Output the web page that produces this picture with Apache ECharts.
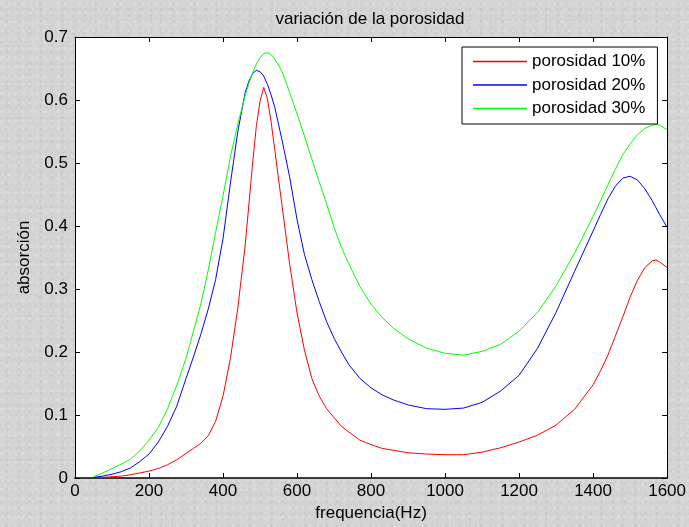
<!DOCTYPE html>
<html>
<head>
<meta charset="utf-8">
<script src="https://cdn.jsdelivr.net/npm/echarts@6/dist/echarts.min.js"></script>
<style>
html,body{margin:0;padding:0;}
body{
  background-color:#d4d4d4;
  background-image:
    radial-gradient(circle at 30% 40%, rgba(255,255,255,0.3) 0, rgba(255,255,255,0) 2px),
    radial-gradient(circle at 70% 60%, rgba(160,160,160,0.25) 0, rgba(160,160,160,0) 2px),
    radial-gradient(circle at 50% 50%, rgba(235,235,235,0.25) 0, rgba(235,235,235,0) 3px),
    radial-gradient(circle at 20% 80%, rgba(175,175,175,0.25) 0, rgba(175,175,175,0) 2px);
  background-size: 7px 9px, 11px 6px, 13px 17px, 5px 11px;
}
#chart{width:689px;height:527px;}
</style>
</head>
<body>
<div id="chart"></div>
<script>
var freq = [50,75,100,125,150,175,200,225,250,275,300,320,340,360,380,400,420,440,460,470,480,490,500,510,520,530,540,560,580,600,620,640,660,680,700,720,740,770,800,830,860,900,950,1000,1050,1100,1150,1200,1250,1300,1350,1400,1420,1440,1460,1480,1500,1520,1540,1560,1570,1580,1600];
var por10 = [0.000,0.001,0.002,0.003,0.005,0.008,0.011,0.015,0.021,0.029,0.039,0.047,0.055,0.067,0.090,0.130,0.190,0.270,0.370,0.435,0.500,0.558,0.598,0.620,0.602,0.565,0.520,0.430,0.340,0.262,0.203,0.158,0.130,0.110,0.096,0.082,0.073,0.060,0.053,0.047,0.044,0.040,0.038,0.037,0.037,0.041,0.048,0.057,0.068,0.084,0.109,0.148,0.170,0.195,0.225,0.255,0.287,0.314,0.334,0.345,0.346,0.343,0.334];
var por20 = [0.001,0.003,0.006,0.010,0.016,0.026,0.038,0.057,0.082,0.114,0.158,0.192,0.228,0.268,0.315,0.380,0.468,0.550,0.612,0.630,0.642,0.647,0.645,0.638,0.625,0.608,0.588,0.535,0.478,0.410,0.355,0.315,0.280,0.248,0.222,0.200,0.180,0.158,0.143,0.132,0.124,0.116,0.110,0.109,0.111,0.120,0.138,0.163,0.206,0.263,0.328,0.392,0.418,0.443,0.463,0.476,0.479,0.473,0.459,0.440,0.429,0.418,0.398];
var por30 = [0.002,0.008,0.015,0.022,0.030,0.043,0.060,0.080,0.110,0.147,0.190,0.233,0.276,0.330,0.390,0.448,0.510,0.562,0.607,0.627,0.643,0.657,0.667,0.674,0.675,0.672,0.665,0.645,0.612,0.578,0.543,0.506,0.470,0.435,0.398,0.366,0.340,0.304,0.276,0.255,0.238,0.221,0.206,0.198,0.195,0.201,0.212,0.233,0.263,0.305,0.357,0.415,0.440,0.465,0.490,0.513,0.530,0.545,0.555,0.560,0.561,0.560,0.553];
var seriesNames = ['porosidad 10%','porosidad 20%','porosidad 30%'];
var seriesColors = ['#ff0000','#0000ff','#00ff00'];
var xTicks = {min:0, max:1600, interval:200};
var yTicks = {min:0, max:0.7, interval:0.1};

function pairs(ys){ return freq.map(function(f,i){ return [f, ys[i]]; }); }
var font = 'Liberation Sans, Arial, Helvetica, sans-serif';
var FS = 17;
var chart = echarts.init(document.getElementById('chart'), null, {renderer:'canvas'});
var tickStyle = {show:true, inside:true, length:5, lineStyle:{color:'#000', width:1}};
function axisLine(w){ return {show:true, onZero:false, lineStyle:{color:'#000', width:w}}; }
chart.setOption({
  backgroundColor: 'transparent',
  animation: false,
  title: {
    text: 'variación de la porosidad',
    left: 365, top: 6, textAlign: 'center',
    textStyle: {fontFamily: font, fontSize: FS, fontWeight: 'normal', color: '#000'}
  },
  legend: {
    data: seriesNames,
    orient: 'vertical',
    left: 462, top: 47,
    backgroundColor: '#fff',
    borderColor: '#000', borderWidth: 1,
    padding: [6, 12, 7, 11],
    itemGap: 6.5,
    itemWidth: 54, itemHeight: 1.5,
    icon: 'rect',
    textStyle: {fontFamily: font, fontSize: FS, color: '#000', lineHeight: 17}
  },
  grid: {left: 75, right: 21, top: 37, bottom: 47, show: true, backgroundColor: '#fff', borderWidth: 0},
  xAxis: [{
    type: 'value', min: xTicks.min, max: xTicks.max, interval: xTicks.interval,
    name: 'frequencia(Hz)', nameLocation: 'middle', nameGap: 27,
    nameTextStyle: {fontFamily: font, fontSize: FS, color: '#000'},
    axisLine: axisLine(1.5), axisTick: tickStyle,
    axisLabel: {fontFamily: font, fontSize: FS, color: '#000', margin: 5, formatter: function(v){ return String(v); }},
    splitLine: {show: false}
  },{
    type: 'value', position: 'top', min: xTicks.min, max: xTicks.max, interval: xTicks.interval,
    axisLine: axisLine(1), axisTick: tickStyle, axisLabel: {show: false}, splitLine: {show: false}
  }],
  yAxis: [{
    type: 'value', min: yTicks.min, max: yTicks.max, interval: yTicks.interval,
    name: 'absorción', nameLocation: 'middle', nameGap: 42,
    nameTextStyle: {fontFamily: font, fontSize: FS, color: '#000'},
    axisLine: axisLine(1), axisTick: tickStyle,
    axisLabel: {fontFamily: font, fontSize: FS, color: '#000', margin: 7, formatter: function(v){ return v === 0 ? '0' : v.toFixed(1); }},
    splitLine: {show: false}
  },{
    type: 'value', position: 'right', min: yTicks.min, max: yTicks.max, interval: yTicks.interval,
    axisLine: axisLine(1), axisTick: tickStyle, axisLabel: {show: false}, splitLine: {show: false}
  }],
  series: [por10, por20, por30].map(function(d, i){
    return {
      name: seriesNames[i], type: 'line', data: pairs(d),
      smooth: false, symbol: 'none', showSymbol: false,
      lineStyle: {color: seriesColors[i], width: 1},
      itemStyle: {color: seriesColors[i]}
    };
  })
});
</script>
</body>
</html>
